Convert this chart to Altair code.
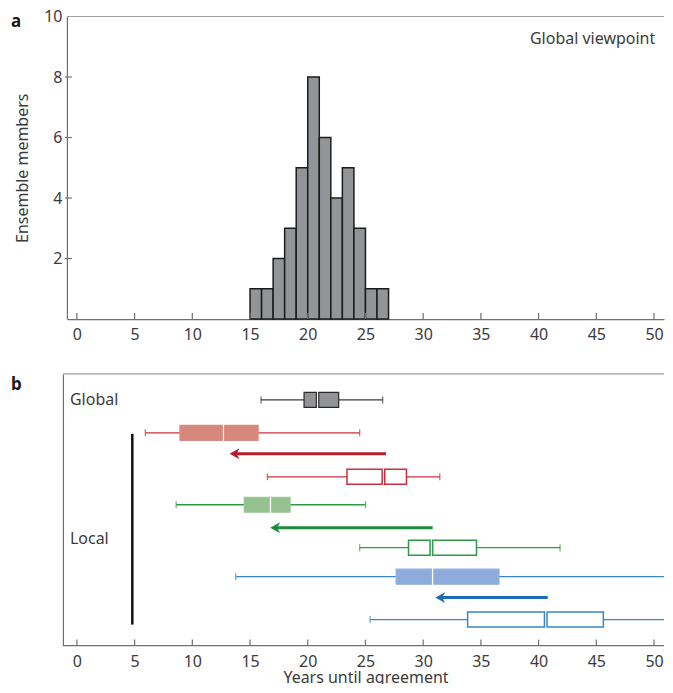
import altair as alt
import pandas as pd

# ---------------- Panel a : histogram ----------------
bin_start = [15, 16, 17, 18, 19, 20, 21, 22, 23, 24, 25, 26]
bin_count = [1, 1, 2, 3, 5, 8, 6, 4, 5, 3, 1, 1]
x_ticks = [0, 5, 10, 15, 20, 25, 30, 35, 40, 45, 50]
y_ticks_a = [2, 4, 6, 8, 10]

# ---------------- Panel b : box plots ----------------
box_group = ["global", "red", "red", "green", "green", "blue", "blue"]
box_style = ["filled", "filled", "outline", "filled", "outline", "filled", "outline"]
box_row = [26, 59, 103, 131, 174, 203, 246]
box_min = [15.95, 5.93, 16.5, 8.6, 24.5, 13.77, 25.4]
box_q1 = [19.68, 8.93, 23.4, 14.5, 28.73, 27.66, 33.85]
box_med = [20.85, 12.7, 26.56, 16.77, 30.71, 30.82, 40.62]
box_q3 = [22.68, 15.7, 28.55, 18.47, 34.62, 36.57, 45.61]
box_max = [26.49, 24.5, 31.44, 25.0, 41.86, 51.1, 51.1]

arrow_group = ["red", "green", "blue"]
arrow_row = [80, 154, 224]
arrow_head = [13.23, 16.75, 31.05]
arrow_tail = [26.78, 30.82, 40.79]

local_bar_x = [4.8]
local_bar_top = [60]
local_bar_bottom = [251]

label_text = ["Global", "Local"]
label_x = [-0.6, -0.6]
label_row = [26, 165]

FONT = "Noto Sans"
FS = 16
TXT = "#3b3b3b"
AX = "#707070"

whisker_pal = {"global": "#3a3a3a", "red": "#c8303f", "green": "#2c9a47", "blue": "#3a87c8"}
fill_pal = {"global": "#929396", "red": "#d5887b", "green": "#95c18f", "blue": "#8eabdb"}
edge_pal = {"global": "#2a2a2a", "red": "#dc8a82", "green": "#9cc597", "blue": "#93afdc"}
arrow_pal = {"red": "#b81c2e", "green": "#1e8b3c", "blue": "#1a6db6"}


def pal_scale(p):
    return alt.Scale(domain=list(p.keys()), range=list(p.values()))


W = 598
HA = 303
HB = 272
xscale = alt.Scale(domain=[-0.865, 50.865], nice=False, zero=False)
yscale_a = alt.Scale(domain=[0, 10], nice=False)

# ---------- panel a ----------
hist = pd.DataFrame({"start": bin_start, "count": bin_count})
hist["end"] = hist["start"] + 1
hist["zero"] = 0

bars = alt.Chart(hist).mark_rect(fill="#939497", stroke="#1c1c1c", strokeWidth=1.5).encode(
    x=alt.X("start:Q", scale=xscale,
            axis=alt.Axis(values=x_ticks, labelPadding=7, title=None, labelFlush=False,
                          domainColor=AX)),
    x2="end:Q",
    y=alt.Y("zero:Q", scale=yscale_a,
            axis=alt.Axis(values=y_ticks_a, labelPadding=5, title="Ensemble members",
                          titlePadding=13, domainColor=AX, labelFlush=False)),
    y2="count:Q",
)

xt = pd.DataFrame({"v": x_ticks})
xt_a = alt.Chart(xt).mark_rule(color=AX, strokeWidth=1.2).encode(
    x=alt.X("v:Q", scale=xscale), y=alt.value(HA - 6), y2=alt.value(HA))
yt = pd.DataFrame({"v": y_ticks_a[:-1]})
yt_a = alt.Chart(yt).mark_rule(color=AX, strokeWidth=1.2).encode(
    y=alt.Y("v:Q", scale=yscale_a), x=alt.value(-2), x2=alt.value(5))
top_a = alt.Chart(pd.DataFrame({"v": [0]})).mark_rule(color="#a0a0a0", strokeWidth=1.2).encode(
    x=alt.value(0), x2=alt.value(W), y=alt.value(0))
gv = alt.Chart(pd.DataFrame({"t": ["Global viewpoint"], "x": [50.1], "y": [9.27]})).mark_text(
    align="right", baseline="middle", font=FONT, fontSize=FS, color=TXT).encode(
    x=alt.X("x:Q", scale=xscale), y=alt.Y("y:Q", scale=yscale_a), text="t:N")
lab_a = alt.Chart(pd.DataFrame({"t": ["a"]})).mark_text(
    align="left", baseline="middle", font=FONT, fontSize=17, fontWeight="bold", color="#1a1a1a").encode(
    x=alt.value(-56), y=alt.value(6), text="t:N")

panel_a = alt.layer(bars, xt_a, yt_a, top_a, gv, lab_a).properties(width=W, height=HA)

# ---------- panel b ----------
boxes = pd.DataFrame({"group": box_group, "style": box_style, "row": box_row,
                      "mn": box_min, "q1": box_q1, "med": box_med, "q3": box_q3, "mx": box_max})
whisk = pd.concat([
    boxes.assign(a=boxes["mn"], b=boxes["q1"]),
    boxes.assign(a=boxes["q3"], b=boxes["mx"]),
])[["group", "row", "a", "b"]]
caps = pd.concat([boxes.assign(v=boxes["mn"]), boxes.assign(v=boxes["mx"])])[["group", "row", "v"]]

yscale_b = alt.Scale(domain=[0, HB], reverse=True, nice=False, zero=False)
xax_b = alt.Axis(values=x_ticks, labelPadding=8, title="Years until agreement", titlePadding=0,
                 domain=False, labelFlush=False)
yax_b = alt.Axis(labels=False, title=None, domainColor=AX, offset=4)

whisker_layer = alt.Chart(whisk).mark_rule(strokeWidth=1.3, clip=True).encode(
    x=alt.X("a:Q", scale=xscale, axis=xax_b),
    x2="b:Q",
    y=alt.Y("row:Q", scale=yscale_b, axis=yax_b),
    stroke=alt.Stroke("group:N", scale=pal_scale(whisker_pal), legend=None),
)
cap_layer = alt.Chart(caps).mark_tick(orient="vertical", size=7, thickness=1.3, clip=True).encode(
    x=alt.X("v:Q", scale=xscale), y=alt.Y("row:Q", scale=yscale_b),
    color=alt.Color("group:N", scale=pal_scale(whisker_pal), legend=None),
)

filled = boxes[boxes["style"] == "filled"]
outline = boxes[boxes["style"] == "outline"]


def halves(df, gap, fill_enc, stroke_enc, sw):
    left = alt.Chart(df).mark_rect(x2Offset=-gap, yOffset=-7.5, y2Offset=7.5, strokeWidth=sw).encode(
        x=alt.X("q1:Q", scale=xscale), x2="med:Q",
        y=alt.Y("row:Q", scale=yscale_b), y2="row:Q",
        fill=fill_enc, stroke=stroke_enc)
    right = alt.Chart(df).mark_rect(xOffset=gap, yOffset=-7.5, y2Offset=7.5, strokeWidth=sw).encode(
        x=alt.X("med:Q", scale=xscale), x2="q3:Q",
        y=alt.Y("row:Q", scale=yscale_b), y2="row:Q",
        fill=fill_enc, stroke=stroke_enc)
    return [left, right]


filled_layers = halves(
    filled, 1.2,
    alt.Fill("group:N", scale=pal_scale(fill_pal), legend=None),
    alt.Stroke("group:N", scale=pal_scale(edge_pal), legend=None), 1.2)
outline_layers = halves(
    outline, 1.3, alt.value("white"),
    alt.Stroke("group:N", scale=pal_scale(whisker_pal), legend=None), 1.5)

arrows = pd.DataFrame({"group": arrow_group, "row": arrow_row, "head": arrow_head, "tail": arrow_tail})
arrow_line = alt.Chart(arrows).mark_rule(strokeWidth=3, x2Offset=6).encode(
    x=alt.X("tail:Q", scale=xscale), x2="head:Q", y=alt.Y("row:Q", scale=yscale_b),
    stroke=alt.Stroke("group:N", scale=pal_scale(arrow_pal), legend=None))
arrow_headm = alt.Chart(arrows).mark_point(
    shape="M0,0 L1.8,-1 L1.25,0 L1.8,1 Z", size=121, filled=True, opacity=1, strokeWidth=0).encode(
    x=alt.X("head:Q", scale=xscale), y=alt.Y("row:Q", scale=yscale_b),
    fill=alt.Fill("group:N", scale=pal_scale(arrow_pal), legend=None))

vbar = alt.Chart(pd.DataFrame({"x": local_bar_x, "t": local_bar_top, "b": local_bar_bottom})).mark_rule(
    color="#111111", strokeWidth=2.5).encode(
    x=alt.X("x:Q", scale=xscale), y=alt.Y("t:Q", scale=yscale_b), y2="b:Q")

labels_b = alt.Chart(pd.DataFrame({"t": label_text, "x": label_x, "row": label_row})).mark_text(
    align="left", baseline="middle", font=FONT, fontSize=FS, color=TXT).encode(
    x=alt.X("x:Q", scale=xscale), y=alt.Y("row:Q", scale=yscale_b), text="t:N")

xt_b = alt.Chart(xt).mark_rule(color=AX, strokeWidth=1.2).encode(
    x=alt.X("v:Q", scale=xscale), y=alt.value(HB - 6), y2=alt.value(HB))
bottom_b = alt.Chart(pd.DataFrame({"v": [0]})).mark_rule(color=AX, strokeWidth=1.2).encode(
    x=alt.value(-4), x2=alt.value(W), y=alt.value(HB))
top_b = alt.Chart(pd.DataFrame({"v": [0]})).mark_rule(color="#a0a0a0", strokeWidth=1.2).encode(
    x=alt.value(-4), x2=alt.value(W), y=alt.value(0))
lab_b = alt.Chart(pd.DataFrame({"t": ["b"]})).mark_text(
    align="left", baseline="middle", font=FONT, fontSize=17, fontWeight="bold", color="#1a1a1a").encode(
    x=alt.value(-56), y=alt.value(11), text="t:N")

panel_b = alt.layer(
    whisker_layer, cap_layer, *filled_layers, *outline_layers, arrow_line, arrow_headm,
    vbar, labels_b, xt_b, bottom_b, top_b, lab_b
).resolve_scale(stroke="independent", fill="independent", color="independent").properties(
    width=W, height=HB)

chart = alt.vconcat(panel_a, panel_b, spacing=31).resolve_scale(
    x="independent", y="independent"
).properties(
    padding={"left": 3, "top": 0, "right": 0, "bottom": -2}
).configure_view(stroke=None).configure_axis(
    labelFont=FONT, labelFontSize=FS, labelColor=TXT, ticks=False, grid=False,
    domainWidth=1.2, titleFont=FONT, titleFontSize=FS, titleFontWeight="normal", titleColor=TXT
)

chart.save("out.html", embed_options={"renderer": "svg", "actions": False})
